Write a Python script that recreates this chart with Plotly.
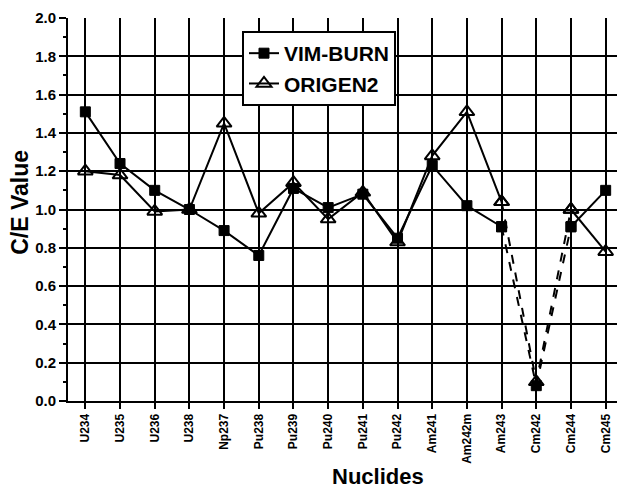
import plotly.graph_objects as go

# C/E values
nuclides = ["U234", "U235", "U236", "U238", "Np237", "Pu238", "Pu239", "Pu240",
            "Pu241", "Pu242", "Am241", "Am242m", "Am243", "Cm242", "Cm244", "Cm245"]
vim_burn = [1.51, 1.24, 1.10, 1.00, 0.89, 0.76, 1.11, 1.01,
            1.08, 0.85, 1.23, 1.02, 0.91, 0.08, 0.91, 1.10]
origen2 = [1.20, 1.18, 0.99, 1.00, 1.45, 0.98, 1.14, 0.95,
           1.09, 0.83, 1.28, 1.51, 1.04, 0.10, 1.00, 0.78]

# Cm242 is joined to its neighbours with dashed lines
dashed_idx = [12, 13, 14]

FONT = "Liberation Sans, Arial, Helvetica, sans-serif"


def split(values):
    solid = [None if i == 13 else v for i, v in enumerate(values)]
    dashed = [v if i in dashed_idx else None for i, v in enumerate(values)]
    return solid, dashed


series = [
    ("VIM-BURN", vim_burn, dict(symbol="square", size=10, color="black",
                                line=dict(color="black", width=1))),
    ("ORIGEN2", origen2, dict(symbol="triangle-up-open", size=13, color="black",
                              line=dict(color="black", width=2))),
]

fig = go.Figure()
for name, values, marker in series:
    solid, dashed = split(values)
    fig.add_trace(go.Scatter(x=nuclides, y=solid, mode="lines+markers", name=name,
                             line=dict(color="black", width=2), marker=marker,
                             connectgaps=False))
    fig.add_trace(go.Scatter(x=nuclides, y=dashed, mode="lines+markers", name=name,
                             line=dict(color="black", width=2, dash="dash"),
                             marker=marker, showlegend=False, connectgaps=False))

# the page body adds an 8px offset, so margins are shifted to compensate
fig.update_layout(
    width=625, height=490,
    margin=dict(l=60, r=10, t=10, b=97),
    plot_bgcolor="white", paper_bgcolor="white",
    font=dict(family=FONT, color="black"),
    showlegend=True,
    legend=dict(x=0.3135, y=0.966, xanchor="left", yanchor="top",
                bgcolor="white", bordercolor="black", borderwidth=2,
                font=dict(size=21, weight="bold", family=FONT),
                tracegroupgap=0),
    xaxis=dict(
        range=[-0.5, 15.5], showgrid=True, gridcolor="black", gridwidth=1.5,
        ticks="outside", ticklen=6, tickcolor="black", tickwidth=1.5,
        tickangle=-90, tickfont=dict(size=12, weight="bold", family=FONT),
        showline=True, linecolor="black", linewidth=2, zeroline=False,
        automargin=False,
    ),
    yaxis=dict(
        range=[0, 2.0], dtick=0.2, tickformat=".1f",
        showgrid=True, gridcolor="black", gridwidth=1.5,
        ticks="outside", ticklen=7, tickcolor="black", tickwidth=1.5,
        tickfont=dict(size=15, weight="bold", family=FONT),
        ticklabeloverflow="allow",
        minor=dict(dtick=0.1, ticks="outside", ticklen=3, tickcolor="black", showgrid=False),
        showline=True, linecolor="black", linewidth=2, zeroline=False,
        automargin=False,
    ),
    annotations=[
        dict(text="C/E Value", xref="paper", yref="paper", x=-0.0865, y=0.52,
             xanchor="center", yanchor="middle",
             textangle=-90, showarrow=False,
             font=dict(size=23, weight="bold", family=FONT)),
        dict(text="Nuclides", xref="paper", yref="paper", x=0.5586, y=-0.197,
             xanchor="center", yanchor="middle",
             showarrow=False, font=dict(size=22, weight="bold", family=FONT)),
    ],
)

fig.write_html("out.html")
